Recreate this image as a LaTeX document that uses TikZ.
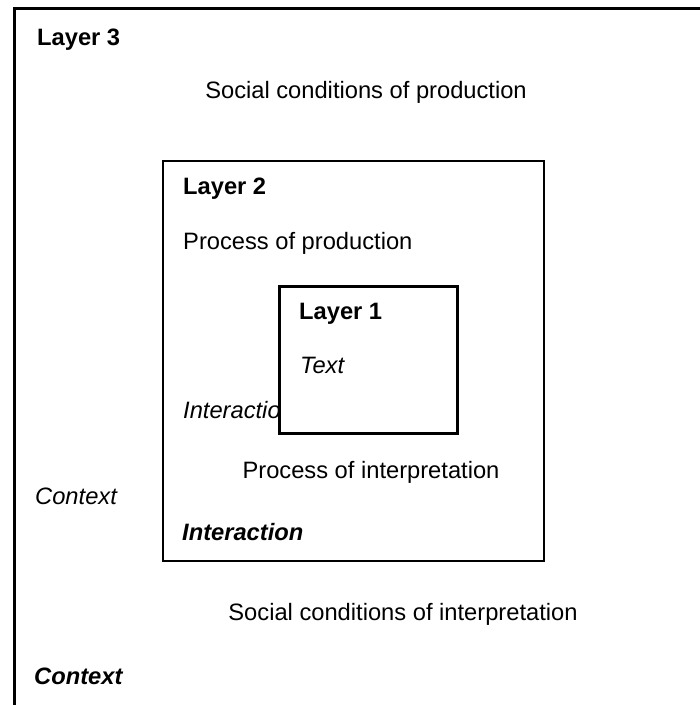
\documentclass[tikz,border=0pt]{standalone}
\usepackage{fontspec}
\setmainfont{Liberation Sans}
\begin{document}
\begin{tikzpicture}[x=1pt,y=-1pt,
  lbl/.style={anchor=base west, inner sep=0pt, font=\fontsize{23.7}{28}\selectfont},
  ctr/.style={anchor=base, inner sep=0pt, font=\fontsize{23.7}{28}\selectfont},
  boxb/.style={draw, fill=white, anchor=north west, inner sep=0pt}]
\useasboundingbox[fill=white] (0,0) rectangle (700,705);
% Layer 3 frame (top and left only)
\coordinate (fbl) at (14,706);
\coordinate (ftl) at (14,8.5);
\coordinate (ftr) at (701,8.5);
\draw[line width=3pt] (fbl) -- (ftl) -- (ftr);
\node[lbl] (l3) at (37,45) {\textbf{Layer 3}};
\node[ctr] (scp) at (366,98) {Social conditions of production};
% Layer 2 box
\node[boxb, line width=2pt, minimum width=381pt, minimum height=400pt] (box2) at (162,160) {};
\node[lbl] (l2) at (183,194) {\textbf{Layer 2}};
\node[lbl] (pp) at (183,249) {Process of production};
\node[lbl] (int1) at (183,418.5) {\itshape Interaction};
% Layer 1 box
\node[boxb, line width=2.5pt, minimum width=178pt, minimum height=147pt] (box1) at (278,285) {};
\node[lbl] (l1) at (299,319) {\textbf{Layer 1}};
\node[lbl] (txt) at (300,373) {\itshape Text};
\node[ctr] (pi) at (371,478) {Process of interpretation};
\node[lbl] (ctx1) at (35,504) {\itshape Context};
\node[lbl] (int2) at (182,540) {\bfseries\itshape Interaction};
\node[ctr] (sci) at (403,620) {Social conditions of interpretation};
\node[lbl] (ctx2) at (34,684) {\bfseries\itshape Context};
\end{tikzpicture}
\end{document}
